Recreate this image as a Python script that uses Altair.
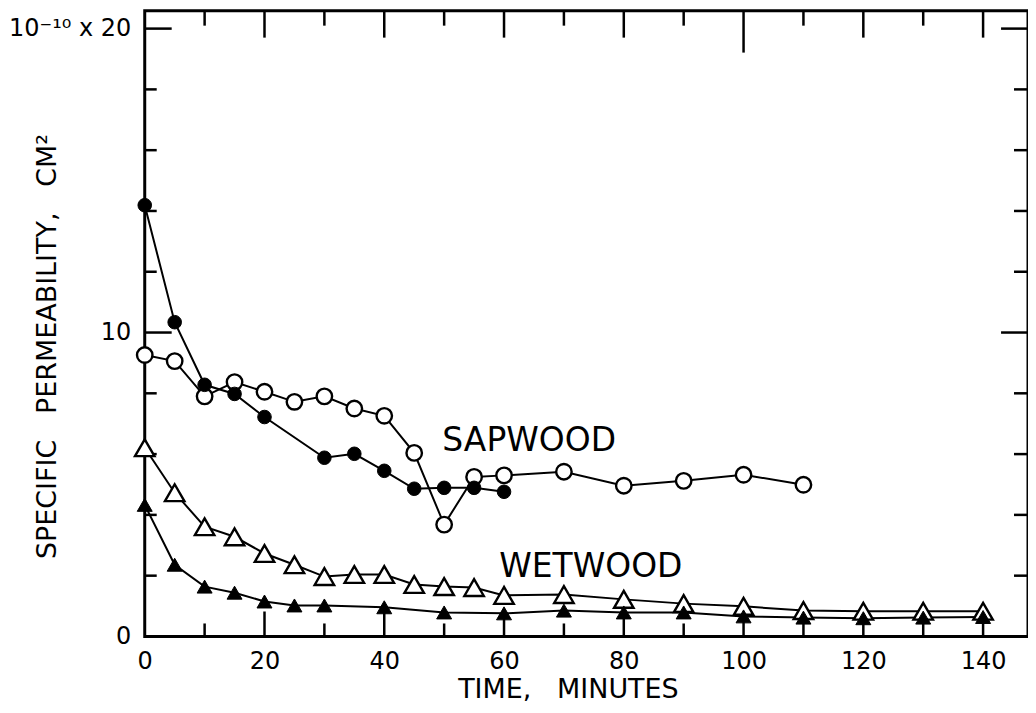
import altair as alt
import pandas as pd

# ---- data ----
sap_open_t = [0, 5, 10, 15, 20, 25, 30, 35, 40, 45, 50, 55, 60, 70, 80, 90, 100, 110]
sap_open_v = [9.26, 9.06, 7.9, 8.37, 8.05, 7.72, 7.9, 7.5, 7.26, 6.04, 3.68, 5.25, 5.3, 5.42, 4.96, 5.12, 5.32, 4.99]

sap_fill_t = [0, 5, 10, 15, 20, 30, 35, 40, 45, 50, 55, 60]
sap_fill_v = [14.19, 10.34, 8.28, 7.98, 7.22, 5.88, 6.01, 5.45, 4.86, 4.89, 4.89, 4.76]

wet_open_t = [0, 5, 10, 15, 20, 25, 30, 35, 40, 45, 50, 55, 60, 70, 80, 90, 100, 110, 120, 130, 140]
wet_open_v = [6.21, 4.73, 3.61, 3.28, 2.73, 2.36, 1.97, 2.04, 2.04, 1.71, 1.64, 1.61, 1.35, 1.38, 1.22, 1.08, 0.99, 0.85, 0.83, 0.83, 0.83]

wet_fill_t = [0, 5, 10, 15, 20, 25, 30, 40, 50, 60, 70, 80, 90, 100, 110, 120, 130, 140]
wet_fill_v = [4.33, 2.36, 1.64, 1.44, 1.15, 1.02, 1.02, 0.96, 0.79, 0.76, 0.85, 0.79, 0.79, 0.66, 0.62, 0.6, 0.62, 0.64]

label_text = ["SAPWOOD", "WETWOOD"]
label_t = [64.2, 74.5]
label_v = [6.44, 2.3]

x_label_values = [0, 20, 40, 60, 80, 100, 120, 140]
y_label_values = [0, 10, 20]
x_major_ticks = [20, 40, 60, 80, 120, 140]
x_long_ticks = [100]
x_minor_ticks = [10, 30, 50, 70, 90, 110, 130]
y_major_ticks = [10, 20]
y_minor_ticks = [2, 4, 6, 8, 12, 14, 16, 18]

# ---- layout ----
W, H = 885, 627
XMAX, YMAX = 147.5, 20.59
PX_Y = H / YMAX   # pixels per unit of the y scale
TICK_W = 2.5
FONT = "DejaVu Sans"
xscale = alt.Scale(domain=[0, XMAX], nice=False, zero=False)
yscale = alt.Scale(domain=[0, YMAX], nice=False, zero=False)

x_axis = alt.Axis(values=x_label_values, title="TIME,\u00a0\u00a0\u00a0MINUTES", ticks=False, domain=False,
                  grid=False, labelFontSize=24, labelFont=FONT, labelPadding=13, labelFlush=False,
                  labelOverlap=False, labelColor="black", titleColor="black", titleFontSize=27,
                  titleFont=FONT, titleFontWeight="normal", titleX=424, titleY=53,
                  titleBaseline="middle", titleAlign="center")
y_axis = alt.Axis(values=y_label_values,
                  title="SPECIFIC\u00a0\u00a0\u00a0PERMEABILITY,\u00a0\u00a0\u00a0CM\u00b2",
                  labelExpr="datum.value == 20 ? '10\u207b\u00b9\u2070 x 20' : datum.label",
                  ticks=False, domain=False, grid=False, labelFontSize=24, labelFont=FONT,
                  labelPadding=14, labelFlush=False, labelOverlap=False, labelColor="black",
                  titleColor="black", titleFontSize=27, titleFont=FONT, titleFontWeight="normal",
                  titleAngle=270, titleX=-97, titleY=336, titleBaseline="middle", titleAlign="center")

X = alt.X("t:Q", scale=xscale, axis=x_axis)
Y = alt.Y("v:Q", scale=yscale, axis=y_axis)


def df(t, v):
    return pd.DataFrame({"t": t, "v": v})


def line_layer(d):
    return alt.Chart(d).mark_line(color="black", strokeWidth=2).encode(x=X, y=Y)


def point_layer(d, shape, fill, size, sw):
    return alt.Chart(d).mark_point(shape=shape, filled=True, fill=fill, stroke="black",
                                   strokeWidth=sw, size=size, opacity=1).encode(x=X, y=Y)


# left / right inward ticks: one-sided line symbols anchored on the frame
RIGHT, LEFT = "M0,0L2,0", "M0,0L-2,0"


def tick_layer(t, v, path, length_px):
    return alt.Chart(df(t, v)).mark_point(shape=path, size=length_px ** 2, filled=False,
                                          stroke="black", strokeWidth=TICK_W, opacity=1).encode(x=X, y=Y)


def left(vals, L):
    return tick_layer([0.0] * len(vals), vals, RIGHT, L)


def right(vals, L):
    return tick_layer([XMAX] * len(vals), vals, LEFT, L)


# bottom / top inward ticks: short two-point line segments, one per tick value
def x_ticks(vals, top, length_px, tag):
    a = YMAX if top else 0.0
    b = a - length_px / PX_Y if top else a + length_px / PX_Y
    rows = []
    for i, t in enumerate(vals):
        rows.append({"t": t, "v": a, "g": f"{tag}{i}"})
        rows.append({"t": t, "v": b, "g": f"{tag}{i}"})
    return alt.Chart(pd.DataFrame(rows)).mark_line(color="black", strokeWidth=TICK_W, strokeCap="butt").encode(
        x=X, y=Y, detail="g:N")


d_so = df(sap_open_t, sap_open_v)
d_sf = df(sap_fill_t, sap_fill_v)
d_wo = df(wet_open_t, wet_open_v)
d_wf = df(wet_fill_t, wet_fill_v)

labels = alt.Chart(pd.DataFrame({"t": label_t, "v": label_v, "text": label_text})).mark_text(
    font=FONT, fontSize=33, color="black", align="center", baseline="middle").encode(
    x=X, y=Y, text="text:N")

layers = [
    x_ticks(x_major_ticks, False, 25, "bM"), x_ticks(x_long_ticks, False, 28, "bL"),
    x_ticks(x_minor_ticks, False, 13, "bm"),
    x_ticks(x_major_ticks, True, 27, "tM"), x_ticks(x_long_ticks, True, 42, "tL"),
    x_ticks(x_minor_ticks, True, 15, "tm"),
    left(y_major_ticks, 27), left(y_minor_ticks, 12),
    right(y_major_ticks, 27), right(y_minor_ticks, 14),
    line_layer(d_so), line_layer(d_sf), line_layer(d_wo), line_layer(d_wf),
    point_layer(d_so, "circle", "white", 240, 2.4),
    point_layer(d_sf, "circle", "black", 185, 1),
    point_layer(d_wo, "triangle-up", "white", 380, 2.4),
    point_layer(d_wf, "triangle-up", "black", 225, 1),
    labels,
]

chart = alt.layer(*layers).properties(
    width=W, height=H,
    padding={"left": 137, "top": 2, "right": 0, "bottom": 68},
    autosize=alt.AutoSizeParams(type="none"),
    background="white",
).configure_view(stroke="black", strokeWidth=3)

chart.save("out.html", embed_options={"renderer": "svg", "actions": False})
